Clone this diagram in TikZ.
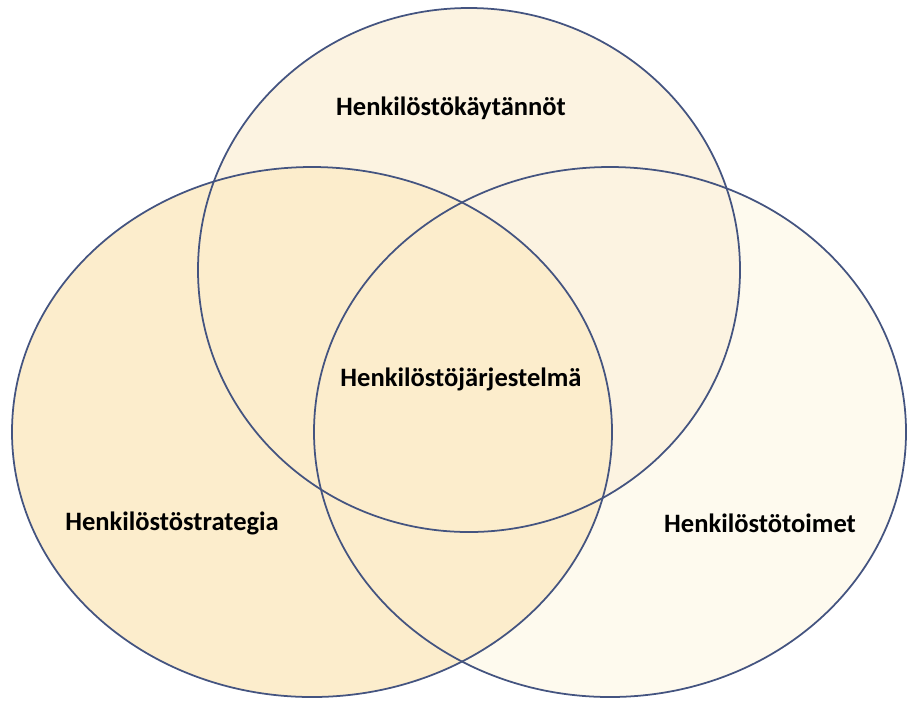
\documentclass[tikz,border=0pt]{standalone}
\usepackage{fontspec}
\setmainfont{Carlito}
\usepackage{tikz}
\usetikzlibrary{positioning}
\usepackage{color}
\definecolor{leftsand}{RGB}{252, 237, 204}
\definecolor{topsand}{RGB}{252, 243, 225}
\definecolor{rightsand}{RGB}{254, 250, 238}
\definecolor{slateblue}{RGB}{68, 84, 128}
\tikzset{
    setlabel/.style={font=\fontsize{7.55}{9}\selectfont\bfseries, text=black, inner sep=1pt},
    setline/.style={draw=slateblue, line width=0.5pt}
}
\begin{document}
\begin{tikzpicture}
        \useasboundingbox                                              (0.00, 0.00) rectangle (9.07, 7.00);
        \begin{scope}[blend mode=darken]
            \filldraw[setline, fill=leftsand]                         (3.12, 2.68) ellipse   (3.00 and 2.65);
            \filldraw[setline, fill=topsand]                          (4.69, 4.30) ellipse   (2.71 and 2.62);
            \filldraw[setline, fill=rightsand]                        (6.10, 2.68) ellipse   (2.96 and 2.65);
        \end{scope}
            \node[setlabel] (kaytannot)   at (4.51, 5.92) {Henkilöstökäytännöt};
            \node[setlabel] (jarjestelma) at (4.61, 3.21) {Henkilöstöjärjestelmä};
            \node[setlabel] (strategia)   at (1.72, 1.77) {Henkilöstöstrategia};
            \node[setlabel] (toimet)      at (7.60, 1.77) {Henkilöstötoimet};
        \end{tikzpicture}
\end{document}
